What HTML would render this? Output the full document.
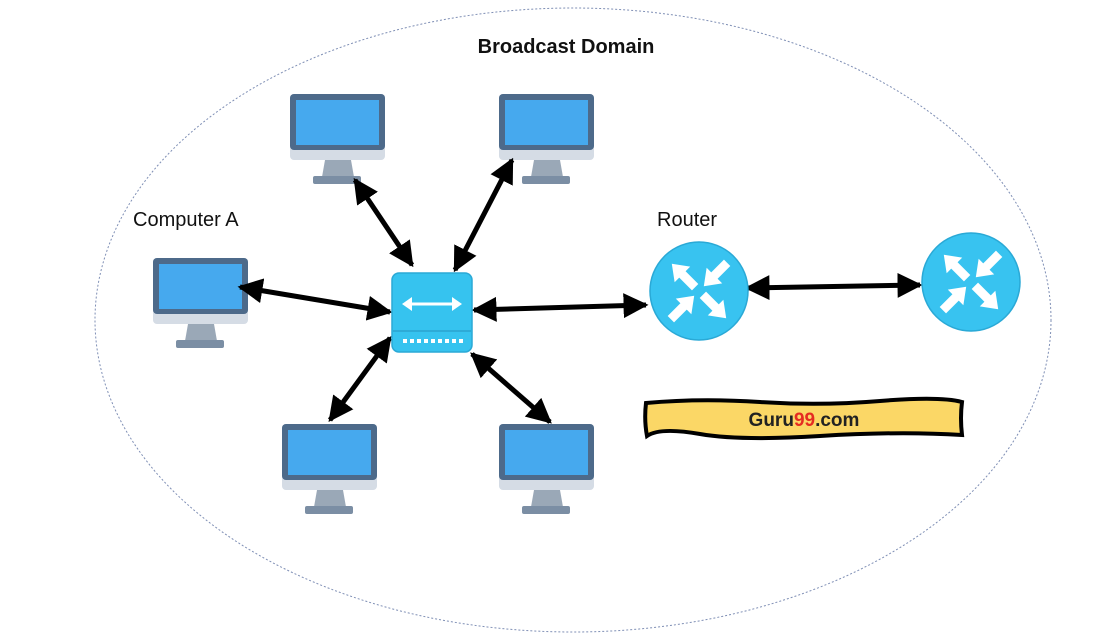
<!DOCTYPE html>
<html><head><meta charset="utf-8"><style>
html,body{margin:0;padding:0;background:#fff;}
svg{display:block;}
text{font-family:"Liberation Sans","DejaVu Sans",sans-serif;}
</style></head><body>
<svg width="1104" height="642" viewBox="0 0 1104 642" xmlns="http://www.w3.org/2000/svg">
<defs>
<marker id="ah" viewBox="0 0 10 10" refX="9" refY="5" markerWidth="5" markerHeight="5" orient="auto-start-reverse">
<path d="M0,0 L10,5 L0,10 z" fill="#000"/>
</marker>
<g id="mon">
<rect x="0" y="0" width="95" height="66" rx="4" fill="#d5dce5"/>
<rect x="0" y="0" width="95" height="56" rx="4" fill="#4d6a8a"/>
<rect x="6" y="6" width="83" height="45" fill="#46a9ee"/>
<polygon points="35,66 61,66 64,83 32,83" fill="#9aa8b7"/>
<rect x="23" y="82" width="48" height="8" rx="2" fill="#7b8ea4"/>
</g>
<g id="rarr">
<polygon points="-20,-4.5 -2,-4.5 -2,-11 13,0 -2,11 -2,4.5 -20,4.5" fill="#fff"/>
</g>
<g id="router">
<circle cx="0" cy="0" r="49" fill="#38c3f0" stroke="#2aa9d6" stroke-width="1.5"/>
<use href="#rarr" transform="translate(-18,-18) rotate(-135)"/>
<use href="#rarr" transform="translate(14,-14) rotate(135)"/>
<use href="#rarr" transform="translate(-14,14) rotate(-45)"/>
<use href="#rarr" transform="translate(18,18) rotate(45)"/>
</g>
</defs>
<ellipse cx="573" cy="320" rx="478" ry="312" fill="none" stroke="#7f8fb5" stroke-width="1" stroke-dasharray="2,2"/>
<text x="566" y="53" text-anchor="middle" font-size="20" font-weight="bold" fill="#111">Broadcast Domain</text>
<text x="133" y="226" font-size="20" fill="#111">Computer A</text>
<text x="657" y="226" font-size="20" fill="#111">Router</text>

<use href="#mon" x="290" y="94"/>
<use href="#mon" x="499" y="94"/>
<use href="#mon" x="153" y="258"/>
<use href="#mon" x="282" y="424"/>
<use href="#mon" x="499" y="424"/>

<g stroke="#000" stroke-width="5" marker-start="url(#ah)" marker-end="url(#ah)" fill="none">
<line x1="355" y1="180" x2="412" y2="265"/>
<line x1="512" y1="160" x2="455" y2="270"/>
<line x1="240" y1="287" x2="390" y2="312"/>
<line x1="474" y1="310" x2="646" y2="305"/>
<line x1="747" y1="288" x2="920" y2="285"/>
<line x1="390" y1="338" x2="330" y2="420"/>
<line x1="472" y1="354" x2="550" y2="422"/>
</g>

<rect x="392" y="273" width="80" height="79" rx="7" fill="#36c3ef" stroke="#2aa9d6" stroke-width="1.5"/>
<line x1="393" y1="331" x2="471" y2="331" stroke="#2aa3cf" stroke-width="1.5"/>
<line x1="407" y1="304" x2="457" y2="304" stroke="#fff" stroke-width="3"/>
<polygon points="402,304 412,297 412,311" fill="#fff"/>
<polygon points="462,304 452,297 452,311" fill="#fff"/>
<g fill="#fff">
<rect x="403" y="339" width="4" height="4"/><rect x="410" y="339" width="4" height="4"/><rect x="417" y="339" width="4" height="4"/><rect x="424" y="339" width="4" height="4"/><rect x="431" y="339" width="4" height="4"/><rect x="438" y="339" width="4" height="4"/><rect x="445" y="339" width="4" height="4"/><rect x="452" y="339" width="4" height="4"/><rect x="459" y="339" width="4" height="4"/>
</g>

<use href="#router" transform="translate(699,291)"/>
<use href="#router" transform="translate(971,282)"/>

<path d="M646,403 Q700,398 760,402 T880,401 T962,402 Q960,418 962,435 Q900,431 820,436 T700,434 T647,436 Q644,420 646,403 z" fill="#fbd766" stroke="#000" stroke-width="4"/>
<text x="804" y="426" text-anchor="middle" font-size="19" font-weight="bold" fill="#222">Guru<tspan fill="#e52b22">99</tspan>.com</text>
</svg>
</body></html>
